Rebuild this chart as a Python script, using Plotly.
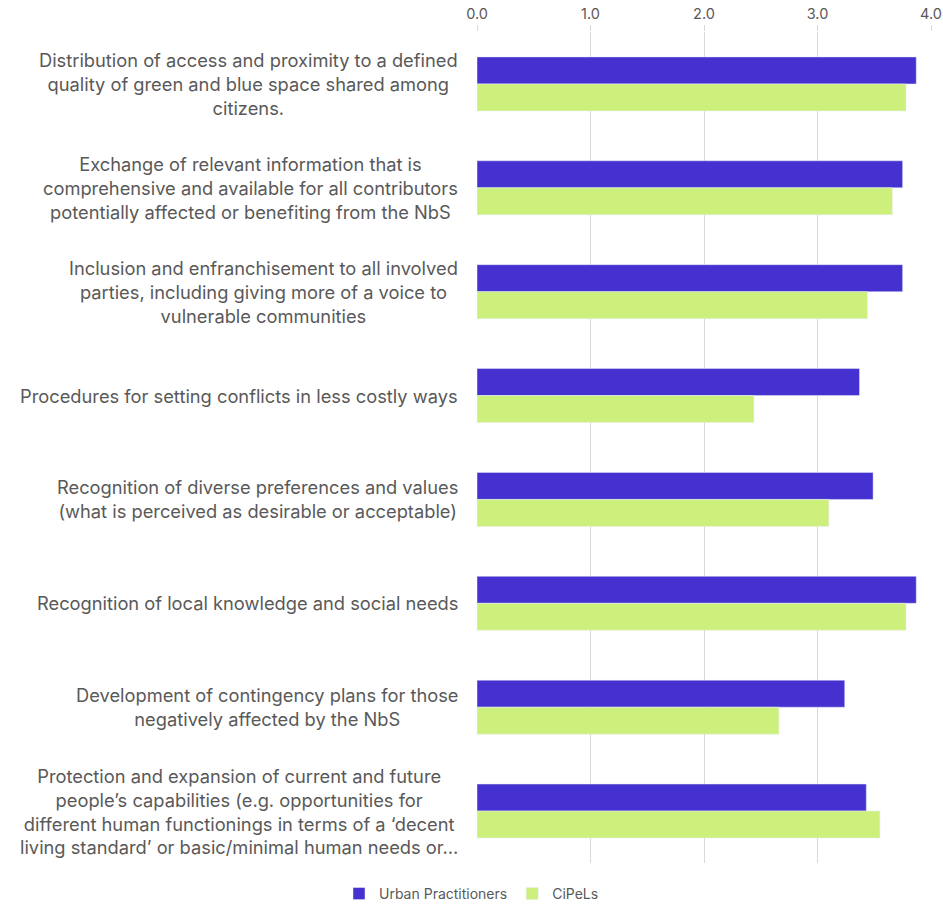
import plotly.graph_objects as go

categories = [
    "Distribution of access and proximity to a defined<br>quality of green and blue space shared among<br>citizens.",
    "Exchange of relevant information that is<br>comprehensive and available for all contributors<br>potentially affected or benefiting from the NbS",
    "Inclusion and enfranchisement to all involved<br>parties, including giving more of a voice to<br>vulnerable communities",
    "Procedures for setting conflicts in less costly ways",
    "Recognition of diverse preferences and values<br>(what is perceived as desirable or acceptable)",
    "Recognition of local knowledge and social needs",
    "Development of contingency plans for those<br>negatively affected by the NbS",
    "Protection and expansion of current and future<br>people\u2019s capabilities (e.g. opportunities for<br>different human functionings in terms of a \u2018decent<br>living standard\u2019 or basic/minimal human needs or\u2026",
]
urban_practitioners = [3.87, 3.75, 3.75, 3.37, 3.49, 3.87, 3.24, 3.43]
cipels = [3.78, 3.66, 3.44, 2.44, 3.10, 3.78, 2.66, 3.55]
x_ticks = [0, 1, 2, 3, 4]
x_tick_labels = ["0.0", "1.0", "2.0", "3.0", "4.0"]

positions = list(range(len(categories)))
font_family = "Inter, Open Sans, sans-serif"

fig = go.Figure()
fig.add_trace(go.Bar(
    y=positions, x=urban_practitioners, orientation="h",
    name="Urban Practitioners", marker=dict(color="#4431cf"),
))
fig.add_trace(go.Bar(
    y=positions, x=cipels, orientation="h",
    name="CiPeLs", marker=dict(color="#cdf07c"),
))

# category labels: right-anchored blocks with centred lines
for pos, label in zip(positions, categories):
    fig.add_annotation(
        x=0, xref="paper", xanchor="right", xshift=-17,
        y=pos, yref="y", yanchor="middle",
        text=label, align="center", showarrow=False,
        font=dict(family=font_family, size=18.3, color="#595959"),
    )

fig.update_layout(
    width=943, height=905,
    margin=dict(l=477, r=12, t=32, b=42, autoexpand=False),
    paper_bgcolor="white", plot_bgcolor="white",
    barmode="group", bargap=0.48, bargroupgap=0,
    font=dict(family=font_family, color="#595959"),
    xaxis=dict(
        side="top", range=[0, 4.0], tickvals=x_ticks, ticktext=x_tick_labels,
        showgrid=True, gridcolor="#d9d9d9", gridwidth=1,
        zeroline=False, showline=False, automargin=False,
        ticks="outside", ticklen=6, tickcolor="#d9d9d9",
        tickfont=dict(size=14.5, color="#595959"),
    ),
    yaxis=dict(
        range=[len(categories) - 0.5, -0.5], showticklabels=False,
        showgrid=False, zeroline=False, showline=False, automargin=False,
    ),
    legend=dict(
        orientation="h", x=0.5, xref="container", xanchor="center",
        y=-0.018, yref="paper", yanchor="top",
        itemwidth=30, tracegroupgap=0,
        font=dict(size=14, color="#595959"), traceorder="normal",
    ),
)

fig.write_html("out.html")
